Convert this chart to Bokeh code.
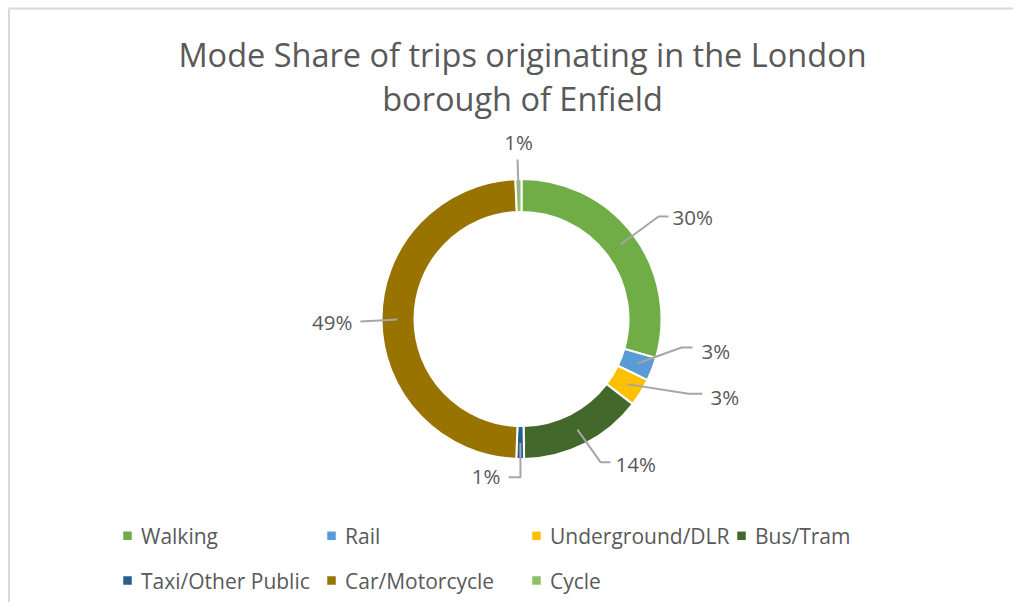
import math
from bokeh.plotting import figure
from bokeh.models import ColumnDataSource, Range1d
from bokeh.core.properties import value
from bokeh.embed import file_html
from bokeh.resources import INLINE

# ---------------- data ----------------
categories = ["Walking", "Rail", "Underground/DLR", "Bus/Tram",
              "Taxi/Other Public", "Car/Motorcycle", "Cycle"]
shares = [29.5, 2.7, 3.2, 14.3, 0.9, 48.7, 0.7]
colors = ["#70AD47", "#5B9BD5", "#FFC000", "#43682B",
          "#255E91", "#997300", "#8CC168"]
title_lines = ["Mode Share of trips originating in the London",
               "borough of Enfield"]

# ---------------- layout helpers (picture pixels -> data units) ----------------
W, H = 1013, 602
def X(sx):
    return sx
def Y(sy):
    return H - sy

CX, CY = X(521), Y(318.5)
R_OUT, R_IN = 140, 107
R_LEAD = 124

FONT = value("Open Sans")
GREY = "#595959"

p = figure(width=W, height=H, output_backend="svg", toolbar_location=None,
           x_range=Range1d(0, W), y_range=Range1d(0, H), min_border=0,
           background_fill_color="white", border_fill_color="white",
           outline_line_color=None)
p.axis.visible = False
p.grid.visible = False

# chart border (left and top visible)
p.segment(x0=[X(8.5), X(8.5)], y0=[0, Y(8)], x1=[X(8.5), W], y1=[Y(8), Y(8)],
          line_color="#D9D9D9", line_width=2)

# ---------------- donut ----------------
total = sum(shares)
fr = [s / total for s in shares]
cum = [0.0]
for f in fr:
    cum.append(cum[-1] + f)
start = [math.pi / 2 - 2 * math.pi * c for c in cum[:-1]]
end = [math.pi / 2 - 2 * math.pi * c for c in cum[1:]]
labels = [f"{math.floor(f * 100 + 0.5)}%" for f in fr]

src = ColumnDataSource(dict(cat=categories, start=start, end=end, color=colors))
p.annular_wedge(x=CX, y=CY, inner_radius=R_IN, outer_radius=R_OUT,
                start_angle="start", end_angle="end", direction="clock",
                fill_color="color", line_color="white", line_width=2,
                source=src)

# ---------------- data labels with leader lines ----------------
# per slice: elbow point, end point, text anchor (picture px), alignment
label_layout = [
    ((658, 216), (668, 216), (672, 216.5), "left"),
    ((681, 347), (692, 347), (701, 350.5), "left"),
    ((688, 393.3), (702, 393.3), (710, 396.7), "left"),
    ((600, 461.7), (610, 461.7), (615, 463), "left"),
    ((520, 476.7), (508, 476.7), (500, 475.5), "right"),
    ((360, 321), (360, 321), (352, 321.7), "right"),
    ((517, 159), (517, 159), (518, 141), "center"),
]
lx, ly, tx, ty, ta, tt = [], [], [], [], [], []
for i, (elb, en, tpos, al) in enumerate(label_layout):
    mid = (cum[i] + cum[i + 1]) / 2
    ang = math.pi / 2 - 2 * math.pi * mid
    sx0 = CX + R_LEAD * math.cos(ang)
    sy0 = CY + R_LEAD * math.sin(ang)
    lx.append([sx0, X(elb[0]), X(en[0])])
    ly.append([sy0, Y(elb[1]), Y(en[1])])
    tx.append(X(tpos[0]))
    ty.append(Y(tpos[1]))
    ta.append(al)
    tt.append(labels[i])

p.multi_line(xs=lx, ys=ly, line_color="#A6A6A6", line_width=2)
p.text(x=tx, y=ty, text=tt, text_align=ta, text_baseline="middle",
       text_font=FONT, text_font_size="20.5px", text_color=GREY)

# ---------------- title ----------------
p.text(x=[X(522), X(522)], y=[Y(53.5), Y(97.5)], text=title_lines,
       text_align="center", text_baseline="middle",
       text_font=FONT, text_font_size="32.5px", text_color=GREY)

# ---------------- legend (manual) ----------------
col_x = [127, 331, 536, 741]
row_y = [535.3, 580]
mx, my, ltx, lty = [], [], [], []
for i, c in enumerate(categories):
    cx = col_x[i % 4]
    cy = row_y[i // 4]
    mx.append(X(cx))
    my.append(Y(cy))
    ltx.append(X(cx + 13.5))
    lty.append(Y(cy))
p.scatter(x=mx, y=my, marker="square", size=8.5, fill_color=colors,
          line_color=None)
p.text(x=ltx, y=lty, text=categories, text_align="left",
       text_baseline="middle", text_font=FONT, text_font_size="21px",
       text_color=GREY)

open("out.html", "w").write(file_html(p, INLINE))
